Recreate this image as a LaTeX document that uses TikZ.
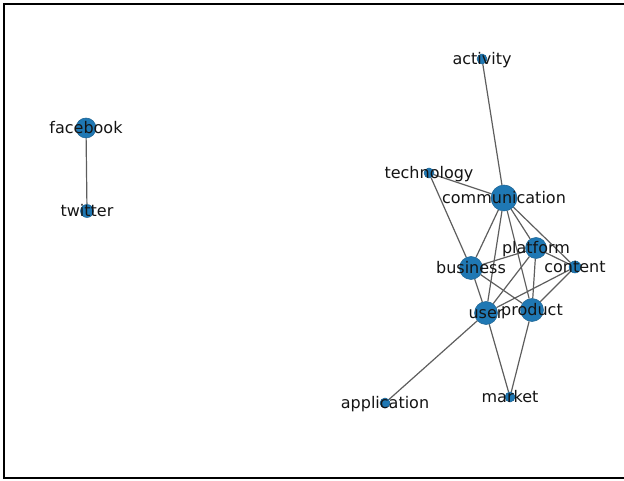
\documentclass[tikz,border=0pt]{standalone}
\usepackage{fontspec}
\setmainfont{DejaVu Sans}
\usetikzlibrary{backgrounds}
\definecolor{nodeblue}{HTML}{1F78B4}
\definecolor{edgegray}{HTML}{5E5E5E}
\begin{document}
\begin{tikzpicture}[x=1pt,y=-1pt,
  vert/.style={circle,fill=nodeblue,draw=nodeblue!80!black,line width=0.5pt,inner sep=0pt,minimum size=#1},
  link/.style={draw=edgegray,line width=1.2pt},
  lab/.style={font=\fontsize{16}{16}\selectfont,text=black!92,inner sep=0pt,
              text height=0.76em,text depth=0.236em,yshift=-3pt}]
\useasboundingbox (0,0) rectangle (624,481);
% outer frame (right side falls outside the page)
\begin{scope}
  \clip (0,0) rectangle (624,481);
  \draw[line width=2.4pt] (4,4) rectangle (660,478);
\end{scope}

% vertices
\node[vert=20pt] (facebook)      at (86,128)  {};
\node[vert=13pt] (twitter)       at (87,211)  {};
\node[vert=10pt] (activity)      at (482,59)  {};
\node[vert=10pt] (technology)    at (429,173) {};
\node[vert=26pt] (communication) at (504,198) {};
\node[vert=21pt] (platform)      at (536,248) {};
\node[vert=12pt] (content)       at (575,267) {};
\node[vert=23pt] (business)      at (471,268) {};
\node[vert=23pt] (user)          at (486,313) {};
\node[vert=23pt] (product)       at (532,310) {};
\node[vert=10pt] (application)   at (385,403) {};
\node[vert=10pt] (market)        at (510,397) {};

% edges
\begin{scope}[on background layer]
  \draw[link] (facebook) -- (twitter);
  \draw[link] (activity) -- (communication);
  \draw[link] (technology) -- (communication);
  \draw[link] (technology) -- (business);
  \draw[link] (communication) -- (business);
  \draw[link] (communication) -- (user);
  \draw[link] (communication) -- (platform);
  \draw[link] (communication) -- (content);
  \draw[link] (communication) -- (product);
  \draw[link] (platform) -- (business);
  \draw[link] (platform) -- (user);
  \draw[link] (platform) -- (product);
  \draw[link] (platform) -- (content);
  \draw[link] (business) -- (user);
  \draw[link] (business) -- (product);
  \draw[link] (content) -- (user);
  \draw[link] (content) -- (product);
  \draw[link] (user) -- (application);
  \draw[link] (user) -- (market);
  \draw[link] (product) -- (market);
\end{scope}

% labels
\node[lab] (l-facebook)      at (facebook)      {facebook};
\node[lab] (l-twitter)       at (twitter)       {twitter};
\node[lab] (l-activity)      at (activity)      {activity};
\node[lab] (l-technology)    at (technology)    {technology};
\node[lab] (l-communication) at (communication) {communication};
\node[lab] (l-platform)      at (platform)      {platform};
\node[lab] (l-content)       at (content)       {content};
\node[lab] (l-business)      at (business)      {business};
\node[lab] (l-user)          at (user)          {user};
\node[lab] (l-product)       at (product)       {product};
\node[lab] (l-application)   at (application)   {application};
\node[lab] (l-market)        at (market)        {market};
\end{tikzpicture}
\end{document}
